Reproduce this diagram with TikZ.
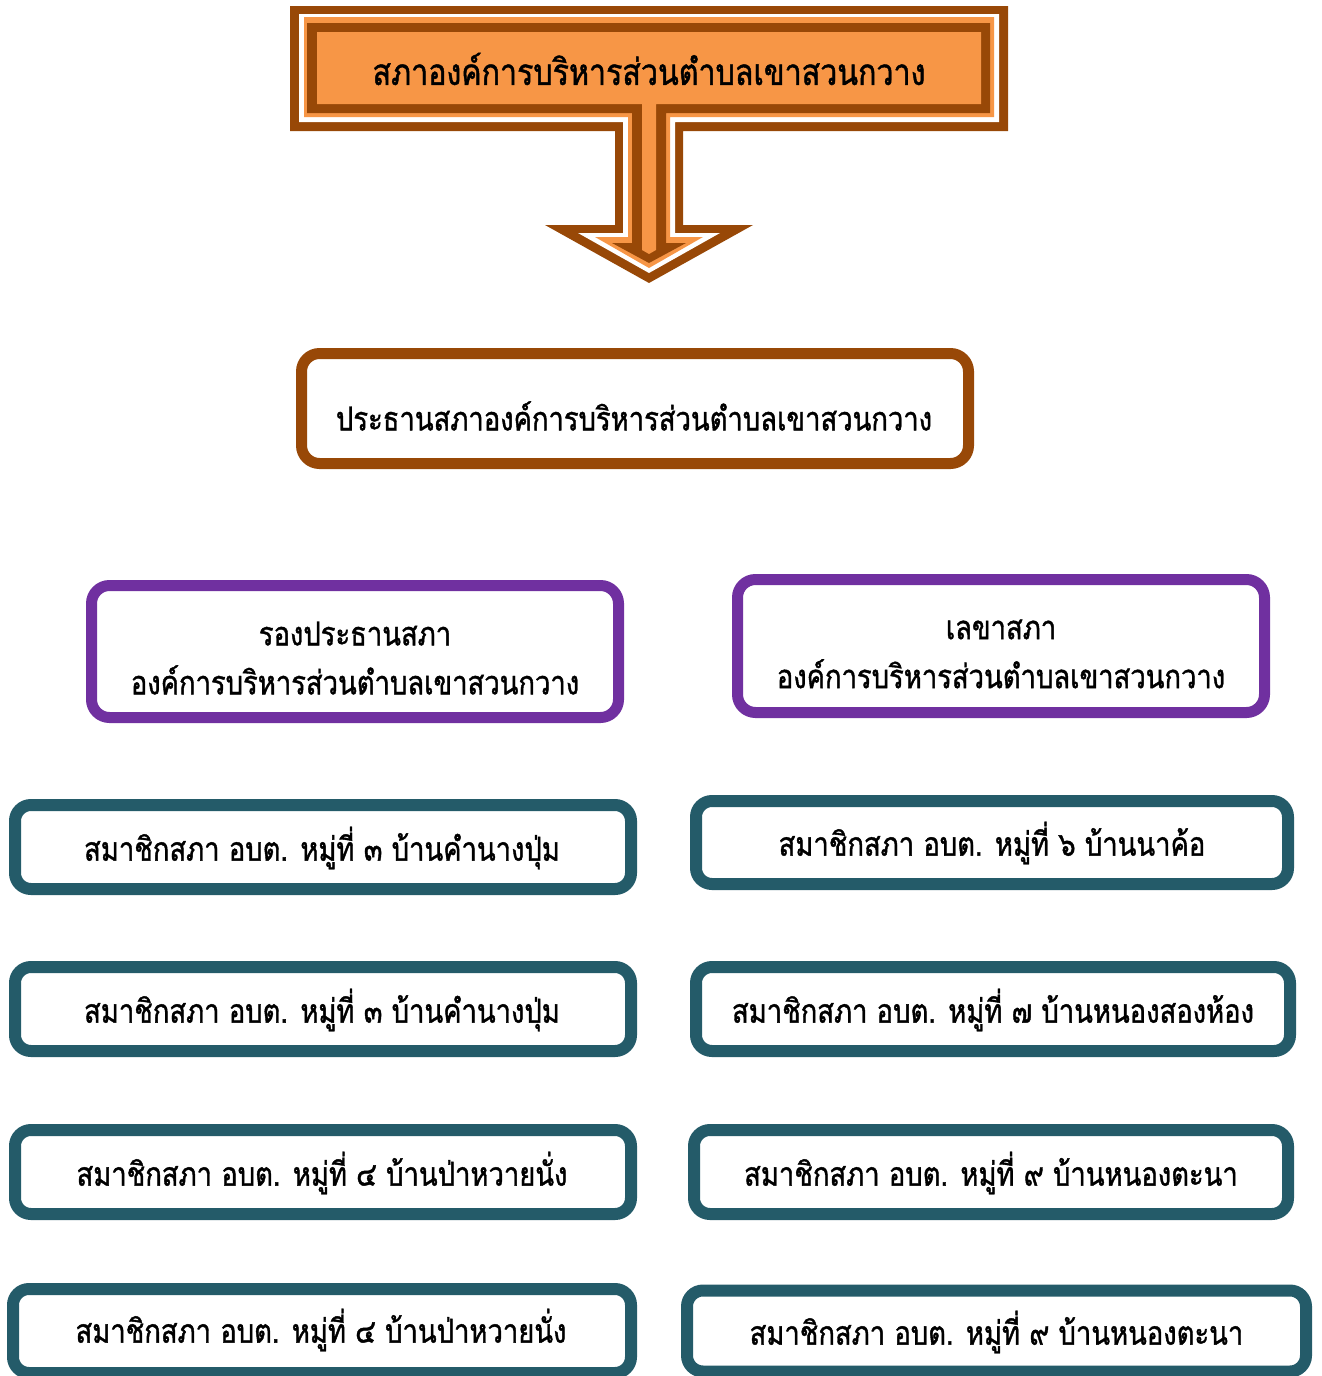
\documentclass[tikz,border=0pt]{standalone}
\usepackage{fontspec}
\newfontfamily\thai[Script=Thai, FakeStretch=0.83, FakeBold=1.2]{Loma}
\definecolor{brn}{HTML}{984807}
\definecolor{org}{HTML}{F79646}
\definecolor{pur}{HTML}{7030A0}
\definecolor{teal}{HTML}{245B69}
% arrow layer: colour, L, R, T, B, s, H, h, P
\newcommand\arrowlayer[9]{%
  \fill[#1] (#2,#4) -- (#3,#4) -- (#3,#5) -- ({649+#6},#5) -- ({649+#6},#7) -- ({649+#8},#7)
    -- (649,#9) -- ({649-#8},#7) -- ({649-#6},#7) -- ({649-#6},#5) -- (#2,#5) -- cycle;}
\begin{document}
\begin{tikzpicture}[x=0.5pt,y=-0.5pt,
  txt/.style={font=\thai\fontsize{16.5}{24.5}\selectfont, align=center, text=black, inner sep=0pt},
  titletxt/.style={txt, font=\thai\fontsize{18.3}{24.5}\selectfont},
  chairbox/.style={draw=brn, line width=5.5pt, rounded corners=9pt, fill=white},
  deputybox/.style={draw=pur, line width=5.5pt, rounded corners=9pt, fill=white},
  memberbox/.style={draw=teal, line width=6pt, rounded corners=8pt, fill=white},
]
\useasboundingbox (0,0) rectangle (1322,1376);
% top arrow callout
\arrowlayer{brn}{290}{1008}{6}{131}{34}{225}{104}{283}
\arrowlayer{white}{299}{999}{14}{122}{26}{233}{71}{273}
\arrowlayer{org}{304}{994}{17}{117}{21}{237}{54}{268}
\arrowlayer{brn}{307}{990}{23}{113}{17}{243}{37}{263}
\arrowlayer{org}{317}{981}{32}{104}{7}{250}{7}{254}
\node[titletxt] (title) at (649,69) {สภาองค์การบริหารส่วนตำบลเขาสวนกวาง};
% chair
\node[chairbox, minimum width=333.5pt, minimum height=55pt] (chair) at (635,408.5) {};
\node[txt] (chairT) at (634,416) {ประธานสภาองค์การบริหารส่วนตำบลเขาสวนกวาง};
% vice and secretary
\node[deputybox, minimum width=263.5pt, minimum height=66pt] (vice) at (355,651.5) {};
\node[txt] (viceT) at (355,658) {รองประธานสภา\\องค์การบริหารส่วนตำบลเขาสวนกวาง};
\node[deputybox, minimum width=263.5pt, minimum height=66.5pt] (secretary) at (1001,646) {};
\node[txt] (secretaryT) at (1001,654) {เลขาสภา\\องค์การบริหารส่วนตำบลเขาสวนกวาง};
% members left
\node[memberbox, minimum width=308pt, minimum height=42pt] (m1) at (323,847) {};
\node[txt] (m1T) at (322,848) {สมาชิกสภา อบต. หมู่ที่ ๓ บ้านคำนางปุ่ม};
\node[memberbox, minimum width=308pt, minimum height=42pt] (m2) at (323,1009) {};
\node[txt] (m2T) at (322,1010) {สมาชิกสภา อบต. หมู่ที่ ๓ บ้านคำนางปุ่ม};
\node[memberbox, minimum width=308pt, minimum height=42pt] (m3) at (323,1172) {};
\node[txt] (m3T) at (322,1173) {สมาชิกสภา อบต. หมู่ที่ ๔ บ้านป่าหวายนั่ง};
\node[memberbox, minimum width=309pt, minimum height=42pt] (m4) at (322,1331) {};
\node[txt] (m4T) at (321,1330) {สมาชิกสภา อบต. หมู่ที่ ๔ บ้านป่าหวายนั่ง};
% members right
\node[memberbox, minimum width=296pt, minimum height=41.5pt] (m5) at (992,842.5) {};
\node[txt] (m5T) at (992,843) {สมาชิกสภา อบต. หมู่ที่ ๖ บ้านนาค้อ};
\node[memberbox, minimum width=297pt, minimum height=42pt] (m6) at (993,1009) {};
\node[txt] (m6T) at (993,1010) {สมาชิกสภา อบต. หมู่ที่ ๗ บ้านหนองสองห้อง};
\node[memberbox, minimum width=297pt, minimum height=42pt] (m7) at (991,1172) {};
\node[txt] (m7T) at (991,1173) {สมาชิกสภา อบต. หมู่ที่ ๙ บ้านหนองตะนา};
\node[memberbox, minimum width=309.5pt, minimum height=40.5pt] (m8) at (996.5,1331) {};
\node[txt] (m8T) at (996.5,1332) {สมาชิกสภา อบต. หมู่ที่ ๙ บ้านหนองตะนา};
\end{tikzpicture}
\end{document}
